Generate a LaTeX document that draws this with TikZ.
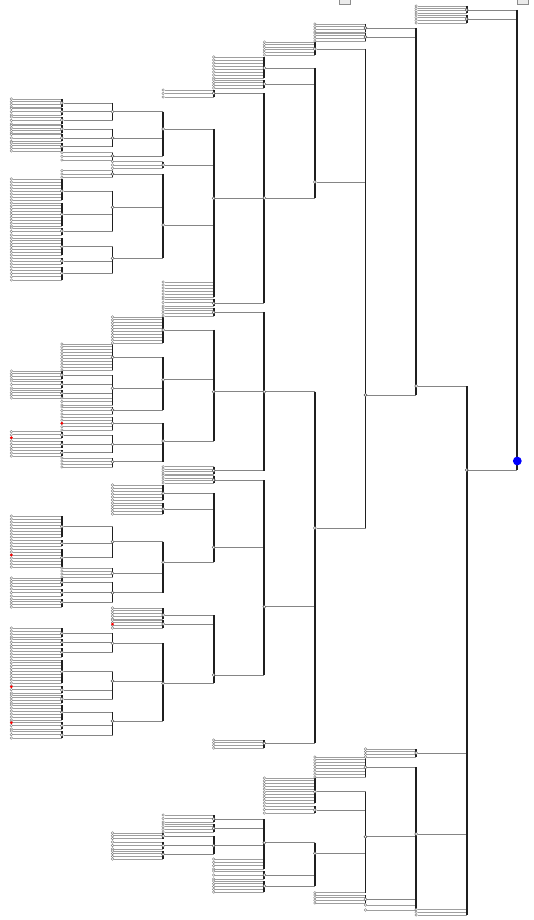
\documentclass[tikz,border=0pt]{standalone}
\usepackage{tikz}
\usetikzlibrary{backgrounds}
\definecolor{twiggray}{rgb}{0.62,0.62,0.62}
\definecolor{linkgray}{rgb}{0.52,0.52,0.52}
\definecolor{stemdark}{rgb}{0.12,0.12,0.12}

% x position of a column of the tree
\newcommand{\colx}[1]{11.3+50.6*#1}
% a run of leaves for one parent: the circles ...
\newcommand{\fanleaves}[5]{%
  \foreach \k in {1,...,#5}{%
    \pgfmathsetmacro{\yy}{#3+(#4-#3)*(\k-1)/max(#5-1,1)}%
    \node[leaf] (#1l\k) at ({\colx{#2}},\yy) {};
  }}
% ... and their lines into the parent's bar
\newcommand{\fanlines}[2]{%
  \foreach \k in {1,...,#2}
    \draw[twig] (#1l\k) -- (#1l\k -| #1);
  \draw[stem] (#1l1 -| #1) -- (#1l#2 -| #1);
}
% parent / column / first y / last y / count
\def\fanlist{
    n9a/8/6/13/4, n9b/8/15/23/4, n9c/8/909.5/915/3,
    n8b/7/749/757/4, n8c/7/905/910/2,
    n7a/6/24/32/4, n7b/6/33/41/4, n7d/6/757/777/8, n7e/6/892.7/892.7/1, n7f/6/895/903/4,
    n6a/5/42/55/6, n6d/5/778/803/10, n6e/5/806/813/3,
    n5a/4/57/78/8, n5b/4/80/88/4, n5f/4/740/748/4, n5g/4/859/869/4,
    n5h/4/871/879/3, n5i/4/881/892/5,
    n4a/3/90/97/3, n4b/3/282/297/6, n4c/3/299/306/3, n4d/3/308/316/4,
    n4f/3/466.7/474/4, n4g/3/475.5/483/4, n4j/3/815/822/3, n4k/3/824/832/4,
    n3b/2/161.7/168.3/3, n3d/2/317/343/10, n3g/2/485/500/6, n3h/2/503/514/5,
    n3j/2/608/619/5, n3k/2/620/628/4, n3m/2/833/838.5/3, n3n/2/842/849/3, n3o/2/851/859/4,
    n2c/1/152.7/160/3, n2d/1/170.7/177.3/3, n2g/1/344/370/10, n2h/1/398/405/3,
    n2i/1/407/414/3, n2j/1/417/430/5, n2l/1/458/467/4, n2n/1/568/577/4,
    u1/0/99/107/4, u2/0/108.5/115/3, u3/0/117/124/3, u4/0/125.5/133/4,
    u5/0/134.5/141.5/3, u6/0/143/151/4, u7/0/179/200/8, u8/0/203/226/9,
    u9/0/228/235/3, u10/0/238/255/7, u11/0/258/264/3, u12/0/267/280/5,
    u13/0/371/379/4, u14/0/381/388/3, u15/0/390/398/4, u16/0/431.7/438/3,
    u17/0/441/447.5/3, u18/0/450/456/3, u19/0/516/537/8, u20/0/540/546/3,
    u21/0/549/567/7, u22/0/578/586/4, u23/0/589/596/3, u24/0/599/607/4,
    u25/0/628/637/4, u26/0/639/645.5/3, u27/0/648/657/4, u28/0/660/683/9,
    u29/0/686/693/3, u30/0/695/703/4, u31/0/705/720/6, u32/0/722/729/3,
    u33/0/731/738/3}

\begin{document}
\begin{tikzpicture}[x=0.25mm, y=-0.25mm,
  knot/.style={circle, draw=black!70, fill=white, line width=0.3pt, inner sep=0pt, minimum size=0.75mm},
  leaf/.style={circle, draw=black!55, fill=white, line width=0.25pt, inner sep=0pt, minimum size=0.65mm},
  hit/.style={circle, fill=red, inner sep=0pt, minimum size=0.75mm},
  rootdot/.style={circle, fill=blue, inner sep=0pt, minimum size=2.2mm},
  tag/.style={draw=black!45, fill=black!8, line width=0.3pt, inner sep=0pt,
    minimum width=2.75mm, minimum height=2.2mm},
  twig/.style={draw=twiggray, line width=0.6pt},
  link/.style={draw=linkgray, line width=0.55pt},
  stem/.style={draw=stemdark, line width=1.3pt}
]
\useasboundingbox (0,0) rectangle (533,920);

\node[tag] (tagL) at (344.5,0) {};
\node[tag] (tagR) at (523,0) {};

% root and inner nodes, column by column
\node[rootdot] (R) at ({\colx{10}},461) {};
\foreach \nm/\yy in {n9a/10, n9b/19, n9c/470}
  \node[knot] (\nm) at ({\colx{9}},\yy) {};
\foreach \nm/\yy in {n8a/386, n8b/753, n8c/834}
  \node[knot] (\nm) at ({\colx{8}},\yy) {};
\foreach \nm/\yy in {n7a/28, n7b/37, n7c/395, n7d/767.3, n7e/836.7, n7f/899.3}
  \node[knot] (\nm) at ({\colx{7}},\yy) {};
\foreach \nm/\yy in {n6a/49, n6b/182, n6c/528, n6d/791.7, n6e/810, n6f/853.3}
  \node[knot] (\nm) at ({\colx{6}},\yy) {};
\foreach \nm/\yy in {n5a/68, n5b/84, n5c/198, n5d/391.7, n5e/606.7, n5f/743.3,
    n5g/842.7, n5h/875, n5i/886}
  \node[knot] (\nm) at ({\colx{5}},\yy) {};
\foreach \nm/\yy in {n4a/93.3, n4b/198.3, n4c/303.3, n4d/312.3, n4e/391.7, n4f/470.7,
    n4g/480, n4h/547.3, n4i/675, n4j/819, n4k/828.3, n4l/845.7}
  \node[knot] (\nm) at ({\colx{4}},\yy) {};
\foreach \nm/\yy in {n3a/129, n3b/165, n3c/225, n3d/330, n3e/379.7, n3f/441,
    n3g/493.3, n3h/509, n3i/562.3, n3j/615, n3k/624, n3l/683.3,
    n3m/836, n3n/845.7, n3o/854.3}
  \node[knot] (\nm) at ({\colx{3}},\yy) {};
\foreach \nm/\yy in {n2a/111.7, n2b/138, n2c/156, n2d/174, n2e/207.3, n2f/258.3,
    n2g/357.3, n2h/388.3, n2i/410, n2j/423.3, n2k/444.3, n2l/461.7,
    n2m/541.7, n2n/573.3, n2o/592.7, n2p/643.3, n2q/681, n2r/721}
  \node[knot] (\nm) at ({\colx{2}},\yy) {};
\foreach \nm/\yy in {u1/103, u2/111.7, u3/120, u4/129, u5/138, u6/146.7,
    u7/191, u8/214.3, u9/231, u10/246.7, u11/261, u12/273.3,
    u13/375, u14/384.3, u15/393.3, u16/435, u17/444.3, u18/452.7,
    u19/526.7, u20/543.3, u21/557.7, u22/582.3, u23/592.7, u24/602.3,
    u25/633.3, u26/642.3, u27/652.3, u28/671.7, u29/690, u30/699,
    u31/712.3, u32/725.7, u33/735}
  \node[knot] (\nm) at ({\colx{1}},\yy) {};

% leaves
\foreach \pa/\c/\ya/\yb/\n in \fanlist
  {\fanleaves{\pa}{\c}{\ya}{\yb}{\n}}

% marked leaves
\foreach \c/\yy [count=\i] in {0/437.7, 0/555, 0/686.7, 0/722.7, 1/423.3, 2/624}
  \node[hit] (hit\i) at ({\colx{\c}},\yy) {};

\begin{scope}[on background layer]
\foreach \pa/\c/\ya/\yb/\n in \fanlist
  {\fanlines{\pa}{\n}}
% child to parent
\foreach \ch/\pa in {n9a/R, n9b/R, n9c/R,
    n8a/n9c, n8b/n9c, n8c/n9c,
    n7a/n8a, n7b/n8a, n7c/n8a, n7d/n8c, n7e/n8c, n7f/n8c,
    n6a/n7c, n6b/n7c, n6c/n7c, n6d/n7e, n6e/n7e, n6f/n7e,
    n5a/n6b, n5b/n6b, n5c/n6b, n5d/n6c, n5e/n6c, n5f/n6c, n5g/n6f, n5h/n6f, n5i/n6f,
    n4a/n5c, n4b/n5c, n4c/n5c, n4d/n5d, n4e/n5d, n4f/n5d,
    n4g/n5e, n4h/n5e, n4i/n5e, n4j/n5g, n4k/n5g, n4l/n5g,
    n3a/n4b, n3b/n4b, n3c/n4b, n3d/n4e, n3e/n4e, n3f/n4e, n3g/n4h, n3h/n4h, n3i/n4h,
    n3j/n4i, n3k/n4i, n3l/n4i, n3m/n4l, n3n/n4l, n3o/n4l,
    n2a/n3a, n2b/n3a, n2c/n3a, n2d/n3c, n2e/n3c, n2f/n3c, n2g/n3e, n2h/n3e, n2i/n3e,
    n2j/n3f, n2k/n3f, n2l/n3f, n2m/n3i, n2n/n3i, n2o/n3i, n2p/n3l, n2q/n3l, n2r/n3l,
    u1/n2a, u2/n2a, u3/n2a, u4/n2b, u5/n2b, u6/n2b, u7/n2e, u8/n2e, u9/n2e,
    u10/n2f, u11/n2f, u12/n2f, u13/n2h, u14/n2h, u15/n2h, u16/n2k, u17/n2k, u18/n2k,
    u19/n2m, u20/n2m, u21/n2m, u22/n2o, u23/n2o, u24/n2o, u25/n2p, u26/n2p, u27/n2p,
    u28/n2q, u29/n2q, u30/n2q, u31/n2r, u32/n2r, u33/n2r}
  \draw[link] (\ch) -- (\ch -| \pa);
% vertical bars: parent / top child / bottom child
\foreach \pa/\ta/\tb in {R/n9a/n9c, n9c/n8a/n9cl3, n8a/n7a/n7c, n8c/n7d/n8cl2,
    n7c/n6a/n6c, n7e/n6d/n7el1, n6b/n5a/n5c, n6c/n5d/n5f, n6f/n5g/n5i,
    n5c/n4a/n4c, n5d/n4d/n4f, n5e/n4g/n4i, n5g/n4j/n5gl4,
    n4b/n3a/n4bl6, n4e/n3d/n3f, n4h/n3g/n3i, n4i/n3j/n3l, n4l/n3m/n3o,
    n3a/n2a/n2c, n3c/n2d/n2f, n3e/n2g/n2i, n3f/n2j/n2l, n3i/n2m/n2o, n3l/n2p/n2r,
    n2a/u1/u3, n2b/u4/u6, n2e/u7/u9, n2f/u10/u12, n2h/u13/n2hl3, n2k/u16/u18,
    n2m/u19/u21, n2o/u22/u24, n2p/u25/u27, n2q/u28/u30, n2r/u31/u33}
  \draw[stem] (\ta -| \pa) -- (\tb -| \pa);
\end{scope}
\end{tikzpicture}
\end{document}
